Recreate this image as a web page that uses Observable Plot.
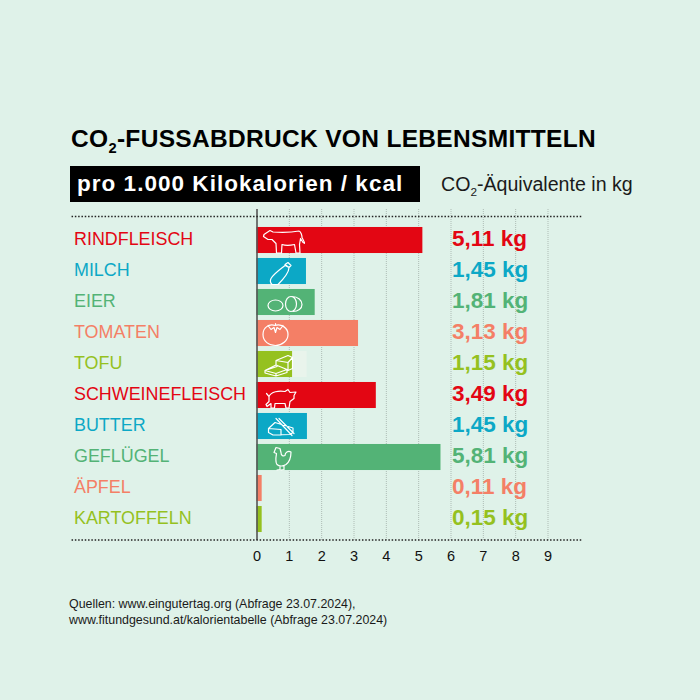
<!DOCTYPE html>
<html><head><meta charset="utf-8">
<style>
html,body{margin:0;padding:0;background:#dff2e9;}
#page{position:relative;width:700px;height:700px;overflow:hidden;font-family:"Liberation Sans",Arial,sans-serif;color:#000;}
#page svg{position:absolute;left:0;top:0;}
.t{position:absolute;white-space:nowrap;}
.t sub{font-size:60%;line-height:0;vertical-align:baseline;position:relative;top:.42em;}
#title{left:71px;top:124px;font-size:24.5px;font-weight:700;line-height:30px;letter-spacing:.32px;}
#band{left:70px;top:166px;width:350px;height:36px;background:#000;color:#fff;font-size:22.5px;font-weight:700;line-height:36px;text-indent:7px;letter-spacing:1.03px;}
#unit{left:441px;top:172px;font-size:19.6px;line-height:24px;color:#1a1a1a;}
#src{left:69px;top:596px;font-size:12.4px;line-height:16px;color:#1a1a1a;}
</style>
<script src="https://cdn.jsdelivr.net/npm/d3@7"></script>
<script src="https://cdn.jsdelivr.net/npm/@observablehq/plot@0.6"></script>
</head><body><div id="page">
<div class="t" id="title">CO<sub>2</sub>-FUSSABDRUCK VON LEBENSMITTELN</div>
<div class="t" id="band">pro 1.000 Kilokalorien / kcal</div>
<div class="t" id="unit">CO<sub>2</sub>-Äquivalente in kg</div>
<div class="t" id="src">Quellen: www.eingutertag.org (Abfrage 23.07.2024),<br>www.fitundgesund.at/kalorientabelle (Abfrage 23.07.2024)</div>
</div>
<script>
const categories = ["RINDFLEISCH","MILCH","EIER","TOMATEN","TOFU","SCHWEINEFLEISCH","BUTTER","GEFLÜGEL","ÄPFEL","KARTOFFELN"];
const values = [5.11,1.45,1.81,3.13,1.15,3.49,1.45,5.81,0.11,0.15];
const barEnds = [5.13,1.53,1.80,3.14,1.10,3.69,1.56,5.69,0.16,0.16];
const colors = ["#e30613","#0ca8c6","#53b376","#f47f66","#95c11f","#e30613","#0ca8c6","#53b376","#f47f66","#95c11f"];
const ticks = [0,1,2,3,4,5,6,7,8,9];
const paleBar = [{c:"TOFU", v:1.55}];

const iconPaths = {
  RINDFLEISCH:"M3 10 L6 8 L9 6 L12 7.5 C20 8 30 8 38 6.5 C40 7 41 11 41 13 L44 19 L42 18 L39.5 14 L38.5 20 L39 28.5 L35 28.5 L33.5 20 C29 21 24 21 21 20 L20.5 28.5 L15.5 28.5 L15 19 L11 15 L7 15 L2.5 12 Z",
  MILCH:"M24 9 L27 7 L30 10 L28 12 Z M24 10 L28 12 C28 17 22 24 17 29 L11 29 C9 27 9 25 10 23 C13 18 19 14 24 10 Z",
  EIER:"M7 19 A7.5 5.5 0 1 0 22 19 A7.5 5.5 0 1 0 7 19 Z M24.5 17.5 A5.5 7.5 0 1 0 35.5 17.5 A5.5 7.5 0 1 0 24.5 17.5 Z M31 10 C37 10 41 14 41 18 C41 22 37 25 32 25",
  TOMATEN:"M14 8 C8 6 2 10 2 17 C2 24 8 28 14.5 28 C21 28 27 23 27 17 C27 10 20 6 14 8 Z M7 8 L10 12 L13 10 L14.5 15 L16 10 L19 12 L22 8 M14.5 8 L14.5 6",
  TOFU:"M4 22 L15 16.5 L26 21 L26 24 L15 27.5 L4 24.5 Z M4 22 L15 25 L26 21 M15 25 L15 27.5 M7 21 L16 18 M15 12 L27 7 L31.5 9 L31.5 20 L27 22 L27 14 Z M27 14 L31.5 9 M15 12 L15 16.5",
  SCHWEINEFLEISCH:"M8 17 C10 12 18 11 24 12 L27 10 L29 13 L35 12.5 L33 16 L33 19 L29 22 L28 28.5 L25 28.5 L24 24 L14 24 L13.5 28.5 L10 28.5 L10 24 L6 27 L5 25 L8 22 Z M8 17 L5.5 14",
  BUTTER:"M7.5 18 L14 12 L32 17.5 L32 22 L29 24 L12 24.5 L7.5 22 Z M7.5 18 L20 19 L20 24.5 M15 8 L31 25 M18 8 L33 23",
  "GEFLÜGEL":"M13 11 L15 6 L19 7 L20 11 C20 14 22 15 24 14 C24 11 27 9 30 10.5 C30 15 29 20 25 23 C22 25 18 25 16 23 C14 20 15 15 15.5 12 Z M19 25 L19 28 L16 28.5 M23 24 L23 28 L20 28.5"
};
const iconData = Object.entries(iconPaths).map(([c,d]) => ({
  c,
  src: "data:image/svg+xml," + encodeURIComponent(
    `<svg xmlns="http://www.w3.org/2000/svg" viewBox="0 0 44 32"><path d="${d}" fill="none" stroke="#fff" stroke-width="1.2" stroke-linejoin="round" stroke-linecap="round"/></svg>`)
}));

const rows = categories.map((c,i)=>({c, v:values[i], end:barEnds[i], col:colors[i], label:values[i].toFixed(2).replace(".",",")+" kg"}));
const fontFam = '"Liberation Sans",Arial,sans-serif';

const chart = Plot.plot({
  width:700, height:700,
  marginTop:209, marginBottom:160, marginLeft:0, marginRight:0,
  style:{background:"transparent", fontFamily:fontFam},
  x:{domain:[0,9], range:[256.5,547.5]},
  y:{domain:categories, range:[224.5,534.5], paddingInner:0.16, paddingOuter:0.08, round:false, axis:null},
  marks:[
    Plot.ruleX(ticks.slice(1), {stroke:"#aebcb5", strokeWidth:1, strokeDasharray:"1,1"}),
    Plot.barX(paleBar, {x:"v", y:"c", fill:"#e9f4ec"}),
    Plot.barX(rows, {x:"end", y:"c", fill:"col"}),
    Plot.image(iconData, {
      x:()=>0, y:"c", src:"src", dx:26, width:44, height:32, preserveAspectRatio:"xMidYMid meet"
    }),
    Plot.ruleX([0], {stroke:"#555", strokeWidth:1.6}),
    Plot.ruleY(["RINDFLEISCH"], {x1:()=>-5.72, x2:()=>10.06, dy:-24, stroke:"#222", strokeWidth:1.5, strokeDasharray:"1.5,1.8"}),
    Plot.ruleY(["KARTOFFELN"], {x1:()=>-5.72, x2:()=>10.06, dy:20.5, stroke:"#222", strokeWidth:1.5, strokeDasharray:"1.5,1.8"}),
    Plot.text(rows, {x:()=>0, y:"c", text:"c", dx:-183, dy:-0.8, fill:"col", textAnchor:"start", fontSize:17.9, fontFamily:fontFam}),
    Plot.text(rows, {x:()=>6, y:"c", text:"label", dx:1, dy:-1.3, fill:"col", textAnchor:"start", fontSize:22.5, fontWeight:700, fontFamily:fontFam}),
    Plot.axisX({anchor:"bottom", ticks, tickSize:0, tickPadding:10, fontSize:14.5, tickFormat:d=>String(d), label:null, fill:"#111"})
  ]
});
document.getElementById("page").appendChild(chart);
</script>
</body></html>
